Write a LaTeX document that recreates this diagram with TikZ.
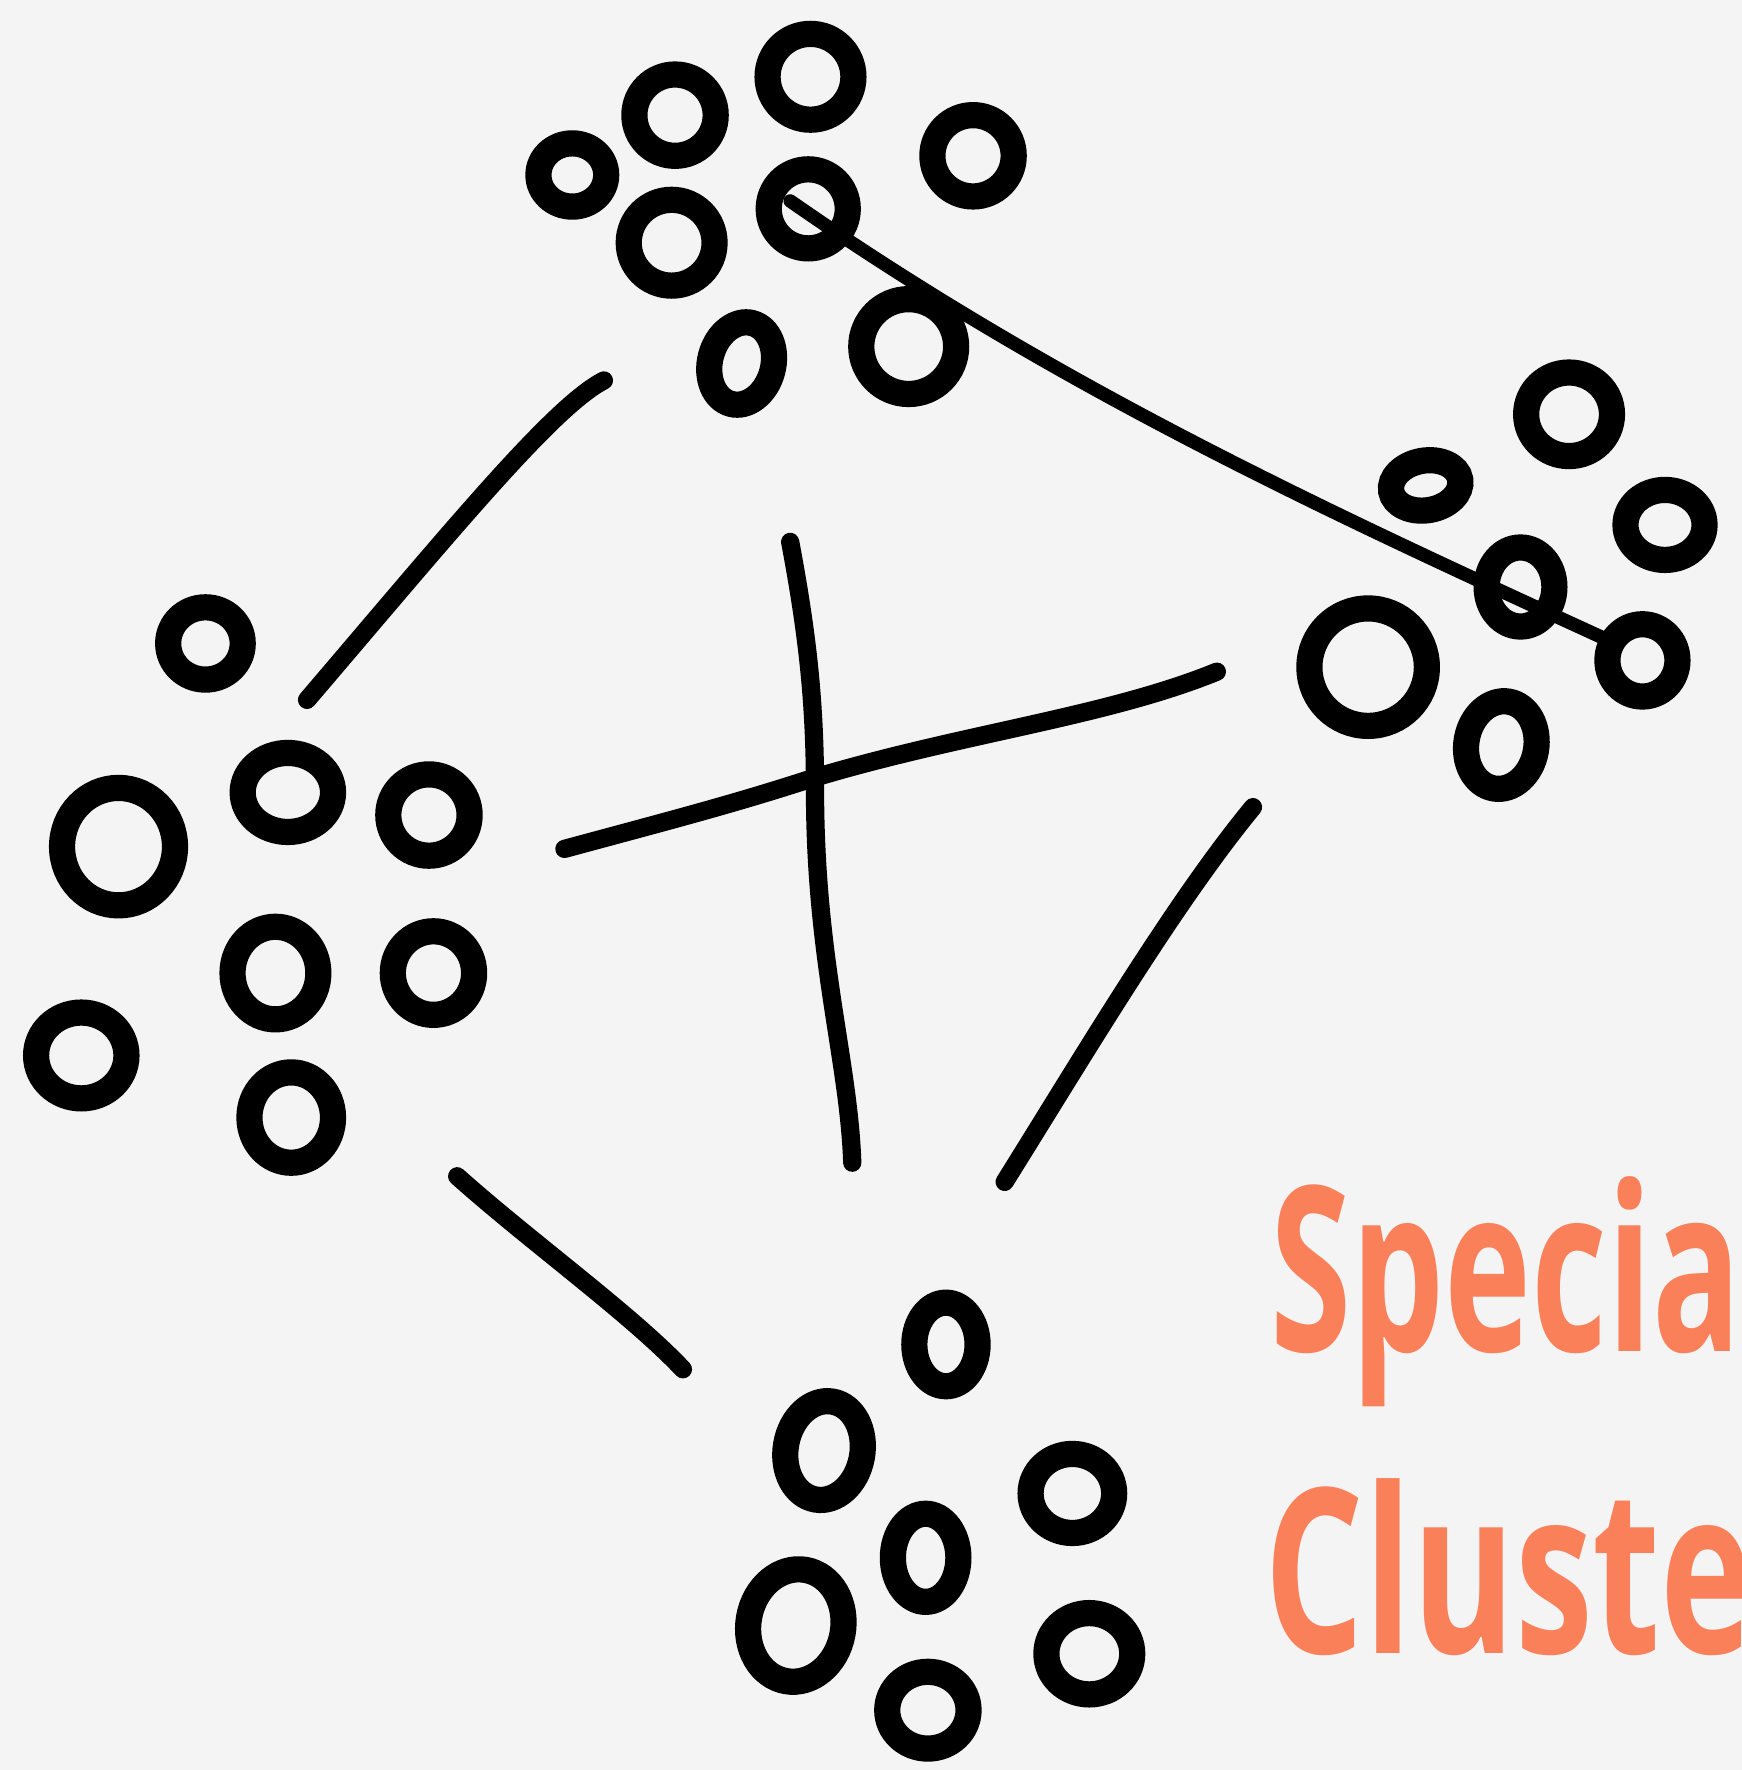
\documentclass[tikz,border=0pt]{standalone}
\usepackage{fontspec}
\usetikzlibrary{shapes.geometric}
\newfontfamily\handfont{Open Sans}
\definecolor{papier}{HTML}{F4F4F4}
\definecolor{lachs}{HTML}{FA805A}
\tikzset{
  blob/.style={draw, ellipse, line width=6.6pt, inner sep=0pt, outer sep=0pt},
  dm/.style 2 args={minimum width=#1mm, minimum height=#2mm},
  link/.style={line width=4.6pt, line cap=round},
  thinlink/.style={line width=3.4pt, line cap=round},
  hand/.style={text=lachs, font=\handfont\bfseries\fontsize{58}{60}\selectfont, anchor=base west, xscale=0.68, inner sep=0pt}
}

\begin{document}
\begin{tikzpicture}[x=0.01cm, y=-0.01cm]

% Rahmen
\useasboundingbox (0,0) rectangle (1543,1568);
\fill[papier] (0,0) rectangle (1543,1568);
\clip (0,0) rectangle (1543,1568);

% Cluster oben
\node[blob, dm={6}{5.6}] (t1) at (507,155) {};
\node[blob, dm={7.2}{7.2}] (t2) at (598,102) {};
\node[blob, dm={7.6}{7.6}] (t3) at (718,68) {};
\node[blob, dm={7.2}{7.2}] (t4) at (862,138) {};
\node[blob, dm={7.6}{7.6}] (t5) at (595,215) {};
\node[blob, dm={7}{7}] (t6) at (716,185) {};
\node[blob, dm={5.6}{7.4}, rotate=-15] (t7) at (657,322) {};
\node[blob, dm={8.4}{8.4}] (t8) at (805,307) {};

% Cluster rechts
\node[blob, dm={7.6}{7.4}] (r1) at (1390,367) {};
\node[blob, dm={6.2}{4.4}, rotate=10] (r2) at (1263,430) {};
\node[blob, dm={7}{6.2}] (r3) at (1475,465) {};
\node[blob, dm={6}{7}] (r4) at (1347,520) {};
\node[blob, dm={10.4}{10.4}] (r5) at (1212,591) {};
\node[blob, dm={6.2}{6.4}] (r6) at (1455,585) {};
\node[blob, dm={6.2}{7.8}, rotate=-10] (r7) at (1330,660) {};

% Cluster links
\node[blob, dm={6.6}{6.4}] (l1) at (182,570) {};
\node[blob, dm={10}{10.4}] (l2) at (105,750) {};
\node[blob, dm={8}{7}] (l3) at (255,702) {};
\node[blob, dm={7.2}{7.2}] (l4) at (380,722) {};
\node[blob, dm={7.6}{8.2}] (l5) at (244,862) {};
\node[blob, dm={7.2}{7.4}] (l6) at (384,862) {};
\node[blob, dm={8}{7.6}] (l7) at (72,935) {};
\node[blob, dm={7.4}{8}] (l8) at (258,990) {};

% Cluster unten
\node[blob, dm={5.6}{7.4}] (b1) at (838,1191) {};
\node[blob, dm={6.8}{8.8}, rotate=-10] (b2) at (730,1285) {};
\node[blob, dm={7.4}{7}] (b3) at (950,1323) {};
\node[blob, dm={5.8}{7.8}] (b4) at (820,1380) {};
\node[blob, dm={8.4}{10}, rotate=-10] (b5) at (705,1440) {};
\node[blob, dm={7.6}{7.2}] (b6) at (965,1465) {};
\node[blob, dm={7.2}{6.8}] (b7) at (822,1515) {};

% Endpunkte der Striche
\coordinate (lo-a) at (272,620);
\coordinate (lo-b) at (535,337);
\coordinate (h-a) at (500,752);
\coordinate (h-b) at (1078,595);
\coordinate (v-a) at (700,480);
\coordinate (v-b) at (755,1030);
\coordinate (ru-a) at (1110,715);
\coordinate (ru-b) at (890,1047);
\coordinate (lu-a) at (405,1042);
\coordinate (lu-b) at (605,1213);
\coordinate (lang-a) at (700,178);
\coordinate (lang-b) at (1432,572);

% Verbindungen
\draw[link] (lo-a) .. controls (400,470) and (490,360) .. (lo-b);
\draw[link] (h-a) .. controls (600,725) and (650,712) .. (718,690)
  .. controls (850,650) and (980,635) .. (h-b);
\draw[link] (v-a) .. controls (715,560) and (722,620) .. (722,700)
  .. controls (722,850) and (752,940) .. (v-b);
\draw[link] (ru-a) .. controls (1040,800) and (960,935) .. (ru-b);
\draw[link] (lu-a) .. controls (470,1100) and (560,1165) .. (lu-b);
\draw[thinlink] (lang-a) .. controls (940,345) and (1180,455) .. (1420,565) -- (lang-b);

% Beschriftung
\node[hand, xscale=0.94] (special) at (1125,1197) {Special};
\node[hand] (cluster) at (1120,1465) {Cluster};

\end{tikzpicture}
\end{document}
